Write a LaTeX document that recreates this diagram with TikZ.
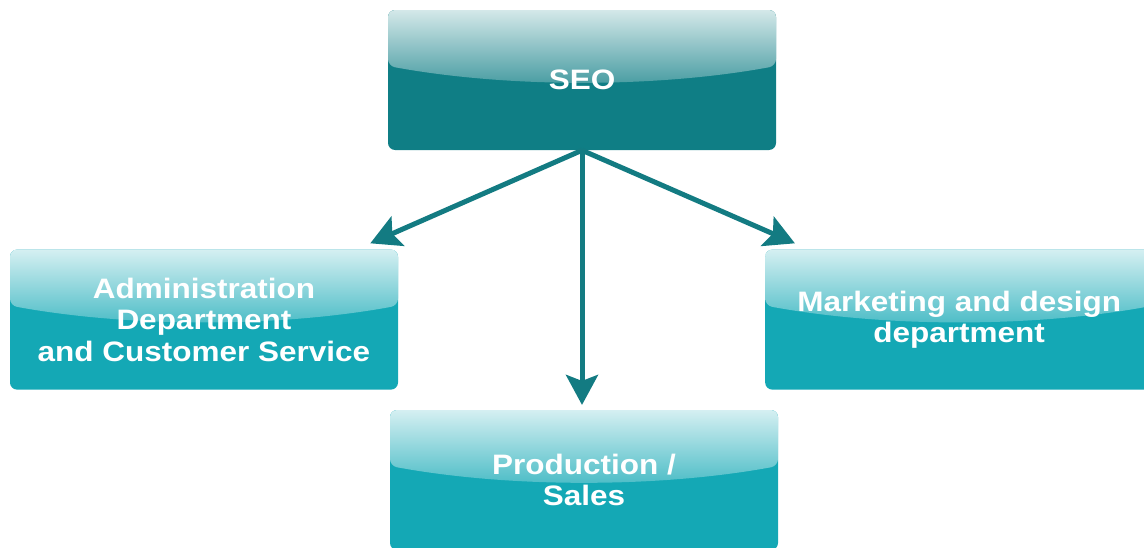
\documentclass[tikz,border=0pt]{standalone}
\usepackage{fontspec}
\newfontfamily\deptfont[FakeStretch=1.12]{Liberation Sans}
\usetikzlibrary{arrows.meta}
\definecolor{seoteal}{HTML}{0F7E85}
\definecolor{deptteal}{HTML}{14A8B5}
\definecolor{linkteal}{HTML}{137B82}

\begin{document}
\begin{tikzpicture}[
  dept/.style={rounded corners=5pt,minimum width=9.7cm,minimum height=3.5cm,fill=#1,
    text=white,align=center,font=\deptfont\bfseries\fontsize{20}{22.4}\selectfont,
    path picture={
      \begin{scope}
        \clip (path picture bounding box.north west) -- (path picture bounding box.north east)
          -- ([yshift=-1.4cm]path picture bounding box.north east)
          .. controls +(-3,-0.55) and +(3,-0.55) .. ([yshift=-1.4cm]path picture bounding box.north west)
          -- cycle;
        \shade[top color=white!82!#1,bottom color=white!25!#1]
          (path picture bounding box.north west) rectangle ([yshift=-1.82cm]path picture bounding box.north east);
      \end{scope}}},
  dept/.default=deptteal,
  link/.style={-{Stealth[length=7.5mm,width=8mm,inset=1.5mm]},line width=1.25mm,linkteal}
]
  \useasboundingbox (0,0) rectangle (28.6,-13.675);

  \node[dept=seoteal] (seo) at (14.55,-2) {SEO};
  \node[dept] (admin) at (5.1,-7.99) {Administration\\Department\\and Customer Service};
  \node[dept] (mkt) at (23.98,-7.99) {Marketing and design\\department};
  \node[dept] (prod) at (14.6,-12) {Production /\\Sales};

  \draw[link] (seo.south) -- ([shift={(-0.7,0.15)}]admin.north east);
  \draw[link,shorten >=1.2mm] (seo.south) -- (seo.south |- prod.north);
  \draw[link] (seo.south) -- ([shift={(0.75,0.15)}]mkt.north west);
\end{tikzpicture}
\end{document}
